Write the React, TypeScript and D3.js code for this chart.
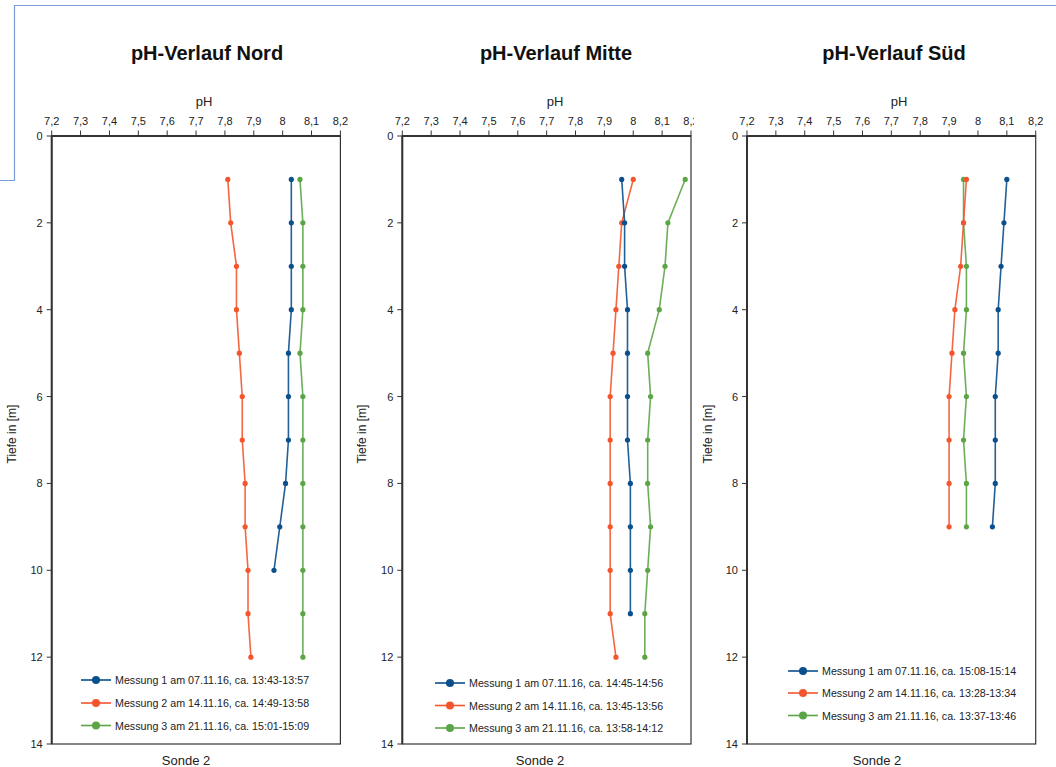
import React from "react";
import * as d3 from "d3";

// ---- data ----
const titles = ["pH-Verlauf Nord", "pH-Verlauf Mitte", "pH-Verlauf Süd"];

const depthNordM1 = [1, 2, 3, 4, 5, 6, 7, 8, 9, 10];
const depthNordM2 = [1, 2, 3, 4, 5, 6, 7, 8, 9, 10, 11, 12];
const depthNordM3 = [1, 2, 3, 4, 5, 6, 7, 8, 9, 10, 11, 12];
const nordM1 = [8.03, 8.03, 8.03, 8.03, 8.02, 8.02, 8.02, 8.01, 7.99, 7.97];
const nordM2 = [7.81, 7.82, 7.84, 7.84, 7.85, 7.86, 7.86, 7.87, 7.87, 7.88, 7.88, 7.89];
const nordM3 = [8.06, 8.07, 8.07, 8.07, 8.06, 8.07, 8.07, 8.07, 8.07, 8.07, 8.07, 8.07];

const depthMitteM1 = [1, 2, 3, 4, 5, 6, 7, 8, 9, 10, 11];
const depthMitteM2 = [1, 2, 3, 4, 5, 6, 7, 8, 9, 10, 11, 12];
const depthMitteM3 = [1, 2, 3, 4, 5, 6, 7, 8, 9, 10, 11, 12];
const mitteM1 = [7.96, 7.97, 7.97, 7.98, 7.98, 7.98, 7.98, 7.99, 7.99, 7.99, 7.99];
const mitteM2 = [8.0, 7.96, 7.95, 7.94, 7.93, 7.92, 7.92, 7.92, 7.92, 7.92, 7.92, 7.94];
const mitteM3 = [8.18, 8.12, 8.11, 8.09, 8.05, 8.06, 8.05, 8.05, 8.06, 8.05, 8.04, 8.04];

const depthSuedM1 = [1, 2, 3, 4, 5, 6, 7, 8, 9];
const depthSuedM2 = [1, 2, 3, 4, 5, 6, 7, 8, 9];
const depthSuedM3 = [1, 2, 3, 4, 5, 6, 7, 8, 9];
const suedM1 = [8.1, 8.09, 8.08, 8.07, 8.07, 8.06, 8.06, 8.06, 8.05];
const suedM2 = [7.96, 7.95, 7.94, 7.92, 7.91, 7.9, 7.9, 7.9, 7.9];
const suedM3 = [7.95, 7.95, 7.96, 7.96, 7.95, 7.96, 7.95, 7.96, 7.96];

const legendNord = [
  "Messung 1 am 07.11.16, ca. 13:43-13:57",
  "Messung 2 am 14.11.16, ca. 14:49-13:58",
  "Messung 3 am 21.11.16, ca. 15:01-15:09",
];
const legendMitte = [
  "Messung 1 am 07.11.16, ca. 14:45-14:56",
  "Messung 2 am 14.11.16, ca. 13:45-13:56",
  "Messung 3 am 21.11.16, ca. 13:58-14:12",
];
const legendSued = [
  "Messung 1 am 07.11.16, ca. 15:08-15:14",
  "Messung 2 am 14.11.16, ca. 13:28-13:34",
  "Messung 3 am 21.11.16, ca. 13:37-13:46",
];

const phDomain = [7.2, 8.2];
const depthDomain = [0, 14];
const colors = ["#0b4f8c", "#f4552d", "#5ca547"];

// ---- layout ----
const FONT = "'Liberation Sans', Arial, sans-serif";
const panels = [
  {
    title: titles[0], left: 51.7, titleX: 207, phX: 204, sondeX: 186, ylabX: 12,
    legX: 81, legY: [680, 703, 725.5], legend: legendNord,
    series: [
      { d: depthNordM1, v: nordM1 },
      { d: depthNordM2, v: nordM2 },
      { d: depthNordM3, v: nordM3 },
    ],
    clip: null as null | [number, number],
  },
  {
    title: titles[1], left: 402.3, titleX: 556, phX: 555, sondeX: 540, ylabX: 362,
    legX: 435, legY: [683, 705.5, 728], legend: legendMitte,
    series: [
      { d: depthMitteM1, v: mitteM1 },
      { d: depthMitteM2, v: mitteM2 },
      { d: depthMitteM3, v: mitteM3 },
    ],
    clip: [350, 694] as null | [number, number],
  },
  {
    title: titles[2], left: 747, titleX: 894, phX: 899, sondeX: 877, ylabX: 708,
    legX: 788, legY: [671, 693, 715.5], legend: legendSued,
    series: [
      { d: depthSuedM1, v: suedM1 },
      { d: depthSuedM2, v: suedM2 },
      { d: depthSuedM3, v: suedM3 },
    ],
    clip: null as null | [number, number],
  },
];
const PW = 288.7;
const TOP = 136;
const BOTTOM = 744;

const fmt = (v: number) => String(Math.round(v * 10) / 10).replace(".", ",");

function Panel({ p, idx }: { p: (typeof panels)[number]; idx: number }) {
  const x = d3.scaleLinear().domain(phDomain).range([p.left, p.left + PW]);
  const y = d3.scaleLinear().domain(depthDomain).range([TOP, BOTTOM]);
  const xt = x.ticks(10);
  const yt = y.ticks(7);
  const order = [2, 1, 0];
  const content = (
    <g>
      <text x={p.titleX} y={60} textAnchor="middle" fontSize={20} fontWeight="bold" fill="#111">
        {p.title}
      </text>
      <text x={p.phX} y={106} textAnchor="middle" fontSize={13} fill="#222">pH</text>
      {xt.map((t) => (
        <g key={"xt" + t}>
          <line x1={x(t)} x2={x(t)} y1={TOP - 5.5} y2={TOP} stroke="#333" strokeWidth={1} />
          <text x={x(t)} y={124.5} textAnchor="middle" fontSize={11} fill="#222">{fmt(t)}</text>
        </g>
      ))}
      {yt.map((t) => (
        <g key={"yt" + t}>
          <line x1={p.left - 5} x2={p.left} y1={y(t)} y2={y(t)} stroke="#333" strokeWidth={1} />
          <text x={p.left - 9} y={y(t) + 4} textAnchor="end" fontSize={11} fill="#222">{t}</text>
        </g>
      ))}
      <rect x={p.left} y={TOP} width={PW} height={BOTTOM - TOP} fill="none" stroke="#333" strokeWidth={1.2} />
      <line x1={p.left} x2={p.left + PW} y1={TOP} y2={TOP} stroke="#333" strokeWidth={2} />
      <line x1={p.left} x2={p.left} y1={TOP} y2={BOTTOM} stroke="#333" strokeWidth={2} />
      <text
        transform={`translate(${p.ylabX + 4},${434}) rotate(-90)`}
        textAnchor="middle"
        fontSize={12}
        fill="#222"
      >
        Tiefe in [m]
      </text>
      <text x={p.sondeX} y={764.5} textAnchor="middle" fontSize={13} fill="#222">Sonde 2</text>
      {order.map((si) => {
        const s = p.series[si];
        const pts = s.d.map((dd, i) => [dd, s.v[i]] as [number, number]);
        const line = d3
          .line<[number, number]>()
          .x((q) => x(q[1]))
          .y((q) => y(q[0]));
        return (
          <g key={"s" + si}>
            <path d={line(pts) || ""} fill="none" stroke={colors[si]} strokeWidth={1.6} strokeOpacity={0.9} />
            {pts.map((q, i) => (
              <circle key={i} cx={x(q[1])} cy={y(q[0])} r={2.6} fill={colors[si]} />
            ))}
          </g>
        );
      })}
      {p.legend.map((lab, i) => (
        <g key={"lg" + i}>
          <line x1={p.legX} x2={p.legX + 30} y1={p.legY[i]} y2={p.legY[i]} stroke={colors[i]} strokeWidth={1.6} />
          <circle cx={p.legX + 15} cy={p.legY[i]} r={4} fill={colors[i]} />
          <text x={p.legX + 34} y={p.legY[i] + 4} fontSize={10.7} fill="#222">{lab}</text>
        </g>
      ))}
    </g>
  );
  if (p.clip) {
    return (
      <g>
        <defs>
          <clipPath id={"clip" + idx}>
            <rect x={p.clip[0]} y={0} width={p.clip[1] - p.clip[0]} height={767} />
          </clipPath>
        </defs>
        <g clipPath={`url(#clip${idx})`}>{content}</g>
      </g>
    );
  }
  return content;
}

export default function App() {
  return (
    <svg
      width={1056}
      height={767}
      style={{ position: "absolute", left: 0, top: 0, background: "#fff" }}
      fontFamily={FONT}
    >
      <rect x={0} y={0} width={1056} height={767} fill="#fff" />
      <path d="M0,180.5 H14.5 V5.5 H1056" fill="none" stroke="#7a9dd6" strokeWidth={1.2} />
      {panels.map((p, i) => (
        <Panel key={i} p={p} idx={i} />
      ))}
    </svg>
  );
}
